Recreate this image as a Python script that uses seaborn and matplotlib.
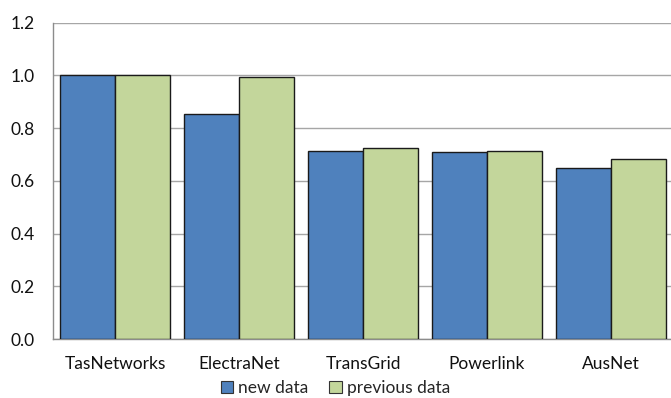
import matplotlib
matplotlib.use("Agg")
import matplotlib.pyplot as plt
import seaborn as sns
import pandas as pd
import numpy as np
from matplotlib.patches import Patch

categories = ["TasNetworks", "ElectraNet", "TransGrid", "Powerlink", "AusNet"]
new_data = [1.0, 0.853, 0.715, 0.708, 0.648]
previous_data = [1.0, 0.995, 0.725, 0.712, 0.682]
series_names = ["new data", "previous data"]
yticks = [0.0, 0.2, 0.4, 0.6, 0.8, 1.0, 1.2]

df = pd.DataFrame({
    "category": categories * 2,
    "value": new_data + previous_data,
    "series": [series_names[0]] * len(categories) + [series_names[1]] * len(categories),
})

sns.set_style("white")
plt.rcParams["font.family"] = ["Lato", "DejaVu Sans"]

colors = ["#4F81BD", "#C3D69B"]
fig = plt.figure(figsize=(6.71, 3.98), dpi=100)
ax = fig.add_axes([53 / 671, 59 / 398, 620 / 671, 316.3 / 398])

sns.barplot(data=df, x="category", y="value", hue="series", palette=colors,
            saturation=1, width=0.895, gap=0, edgecolor="#1a1a1a", linewidth=1.0,
            ax=ax, legend=False, zorder=3)

ax.set_xlim(-0.5, len(categories) - 0.5)
ax.set_ylim(0, 1.2)
ax.set_yticks(yticks)
ax.set_yticklabels([f"{v:.1f}" for v in yticks])
ax.set_xlabel("")
ax.set_ylabel("")
ax.yaxis.grid(True, color="#A6A6A6", linewidth=1.0, zorder=0)
ax.set_axisbelow(True)

for s in ["top", "right"]:
    ax.spines[s].set_visible(False)
for s in ["left", "bottom"]:
    ax.spines[s].set_color("#8C8C8C")
    ax.spines[s].set_linewidth(1.0)

fs = 12.5
ax.set_xticks(np.arange(len(categories)))
ax.set_xticklabels(categories)
ax.tick_params(axis="x", which="major", length=0, pad=12, labelsize=fs, labelcolor="#111111")
ax.set_xticks(np.arange(-0.5, len(categories), 1.0), minor=True)
ax.tick_params(axis="x", which="minor", length=5, color="#8C8C8C", width=1.0, direction="out")
ax.tick_params(axis="y", length=5, color="#8C8C8C", width=1.0, direction="out",
               labelsize=fs, labelcolor="#111111", pad=8)

handles = [Patch(facecolor=c, edgecolor="#333333", linewidth=0.8) for c in colors]
fig.legend(handles, series_names, loc="center", bbox_to_anchor=(0.5, 10 / 398),
           ncol=2, frameon=False, fontsize=fs, handlelength=0.7, handleheight=0.7,
           handletextpad=0.3, columnspacing=1.2, borderpad=0)

fig.savefig("out.png", dpi=100)
